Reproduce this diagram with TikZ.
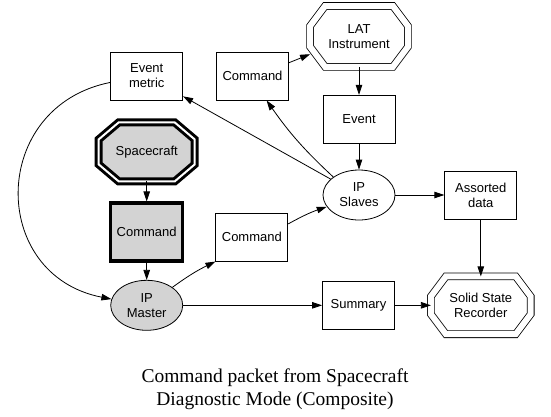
\documentclass[tikz,border=0pt]{standalone}
\usepackage{fontspec}
\setmainfont{Liberation Sans}
\newfontfamily\capfont{Liberation Serif}
\usepackage{tikz}
\usetikzlibrary{positioning,arrows.meta,shapes.geometric}
\definecolor{lgray}{RGB}{211,211,211}

% octagon with separate cut sizes, borders as a rectangle
\makeatletter
\pgfkeys{/pgf/cut x/.initial=15pt, /pgf/cut y/.initial=20pt}
\pgfdeclareshape{octbox}{%
  \inheritsavedanchors[from=rectangle]%
  \inheritanchorborder[from=rectangle]%
  \inheritanchor[from=rectangle]{center}%
  \inheritanchor[from=rectangle]{base}%
  \inheritanchor[from=rectangle]{mid}%
  \inheritanchor[from=rectangle]{text}%
  \inheritanchor[from=rectangle]{north}%
  \inheritanchor[from=rectangle]{south}%
  \inheritanchor[from=rectangle]{east}%
  \inheritanchor[from=rectangle]{west}%
  \backgroundpath{%
    \southwest \edef\octL{\the\pgf@x}\edef\octB{\the\pgf@y}%
    \northeast \edef\octR{\the\pgf@x}\edef\octT{\the\pgf@y}%
    \pgfmathsetlengthmacro\octcx{\pgfkeysvalueof{/pgf/cut x}}%
    \pgfmathsetlengthmacro\octcy{\pgfkeysvalueof{/pgf/cut y}}%
    \pgfpathmoveto{\pgfpoint{\octL+\octcx}{\octT}}%
    \pgfpathlineto{\pgfpoint{\octR-\octcx}{\octT}}%
    \pgfpathlineto{\pgfpoint{\octR}{\octT-\octcy}}%
    \pgfpathlineto{\pgfpoint{\octR}{\octB+\octcy}}%
    \pgfpathlineto{\pgfpoint{\octR-\octcx}{\octB}}%
    \pgfpathlineto{\pgfpoint{\octL+\octcx}{\octB}}%
    \pgfpathlineto{\pgfpoint{\octL}{\octB+\octcy}}%
    \pgfpathlineto{\pgfpoint{\octL}{\octT-\octcy}}%
    \pgfpathclose
  }%
}
\makeatother

\begin{document}
\begin{tikzpicture}[
    x=1pt, y=-1pt,
    box/.style={draw, line width=0.8pt, minimum width=72pt, minimum height=48pt, align=center, inner sep=0pt, font=\fontsize{13}{15}\selectfont},
    bbox/.style={box, line width=3.5pt, fill=lgray, minimum height=58pt},
    oval/.style={box, ellipse, minimum width=72pt, minimum height=50pt},
    oct/.style={box, octbox, cut x=15pt, cut y=20pt, double, double distance=6pt, minimum width=97pt, minimum height=60pt},
    boct/.style={oct, line width=3pt, double distance=2pt, fill=lgray, minimum width=93pt, minimum height=56pt, cut x=20pt, cut y=17pt},
    arr/.style={-{Triangle[length=10pt,width=6.5pt]}, line width=0.8pt}
]
\useasboundingbox (0,0) rectangle (551,416);

\node[oval] (slaves) at (359,195) {IP\\Slaves};
\node[box, above=26pt of slaves] (event) {Event};
\node[oct, above=28pt of event] (lat) {LAT\\Instrument};
\node[box, right=49pt of slaves] (assorted) {Assorted\\data};
\node[oct, below=57pt of assorted, minimum width=99pt, minimum height=57pt] (ssr) {Solid State\\Recorder};
\node[box, left=36pt of ssr] (summary) {Summary};
\node[oval, fill=lgray, left=139pt of summary] (master) {IP\\Master};
\node[bbox, above=17pt of master] (cmdbold) {Command};
\node[boct, above=20pt of cmdbold] (spacecraft) {Spacecraft};
\node[box, above=22pt of spacecraft] (emetric) {Event\\metric};
\node[box, right=33pt of emetric] (cmdtop) {Command};
\node[box, right=31pt of cmdbold, yshift=-5pt] (cmdlow) {Command};

\node[anchor=north, align=center, inner sep=0pt, font=\capfont\fontsize{19.5}{23.5}\selectfont] (caption) at (275,368.5)
  {Command packet from Spacecraft\\Diagnostic Mode (Composite)};

\draw[arr] (spacecraft) -- (cmdbold);
\draw[arr] (cmdbold) -- (master);
\draw[arr] (master) -- (summary);
\draw[arr] (summary) -- (ssr);
\draw[arr] (master.35) to[bend left=5] (cmdlow.south west);
\draw[arr] (cmdlow.20) to[bend left=5] (slaves.200);
\draw[arr] (slaves) -- (assorted);
\draw[arr] (assorted) -- (ssr);
\draw[arr] (lat) -- (event);
\draw[arr] (event) -- (slaves);
\draw[arr] (cmdtop.20) -- (lat.200);
\draw[arr] (slaves.145) to[bend left=6] (cmdtop.-60);
\draw[arr] (slaves) -- (emetric);
\draw[arr] (emetric.190) .. controls +(-121,24) and +(-123,-24) .. (master.170);
\end{tikzpicture}
\end{document}
